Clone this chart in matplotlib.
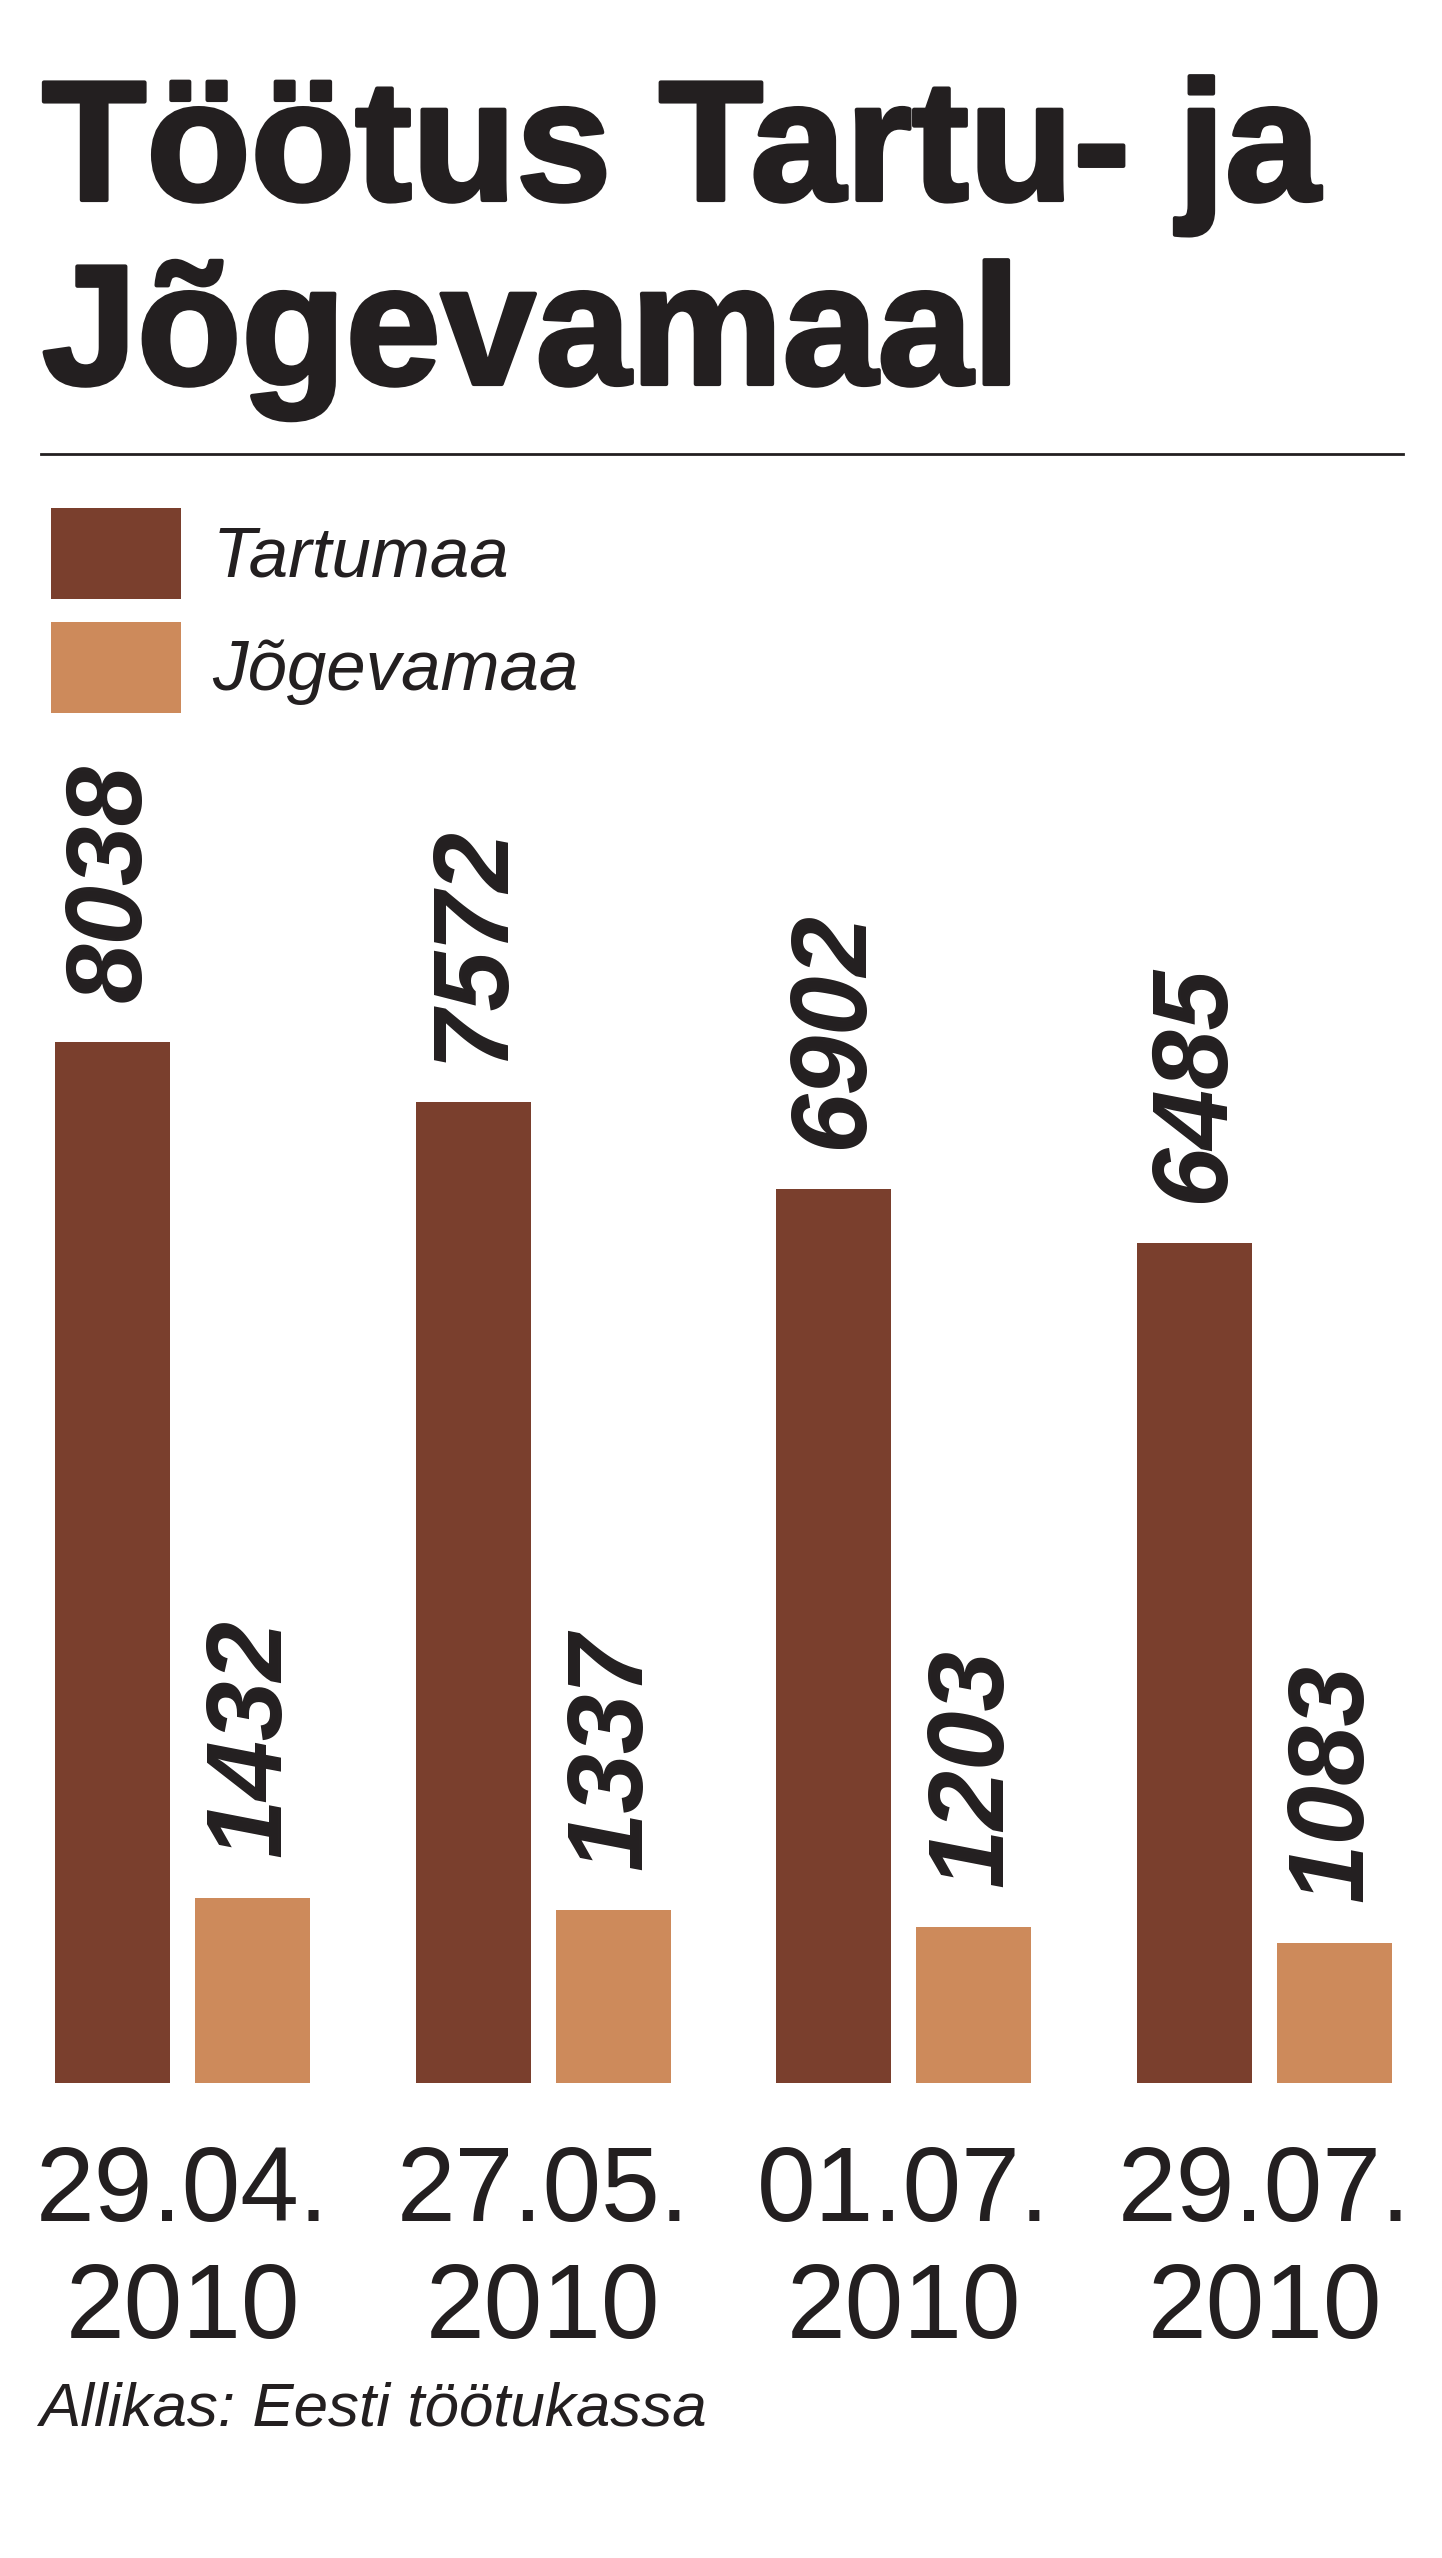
import matplotlib
matplotlib.use('Agg')
import matplotlib.pyplot as plt
import matplotlib.patheffects as pe
from matplotlib.lines import Line2D
import numpy as np

# ---- data ----
dates = ["29.04.\n2010", "27.05.\n2010", "01.07.\n2010", "29.07.\n2010"]
tartumaa = [8038, 7572, 6902, 6485]
jogevamaa = [1432, 1337, 1203, 1083]
series_names = ["Tartumaa", "Jõgevamaa"]
title_lines = ["Töötus Tartu- ja", "Jõgevamaal"]
source = "Allikas: Eesti töötukassa"

# ---- layout ----
W, H = 1442, 2558
DPI = 100
fig = plt.figure(figsize=(W / DPI, H / DPI), dpi=DPI)
fig.patch.set_facecolor('white')

dark = '#7A3F2D'
light = '#CD8A5B'
ink = '#231F20'
sans = ['Liberation Sans', 'DejaVu Sans']


def fx(px):
    return px / W


def fy(py):
    return 1 - py / H


# title
for line, base in zip(title_lines, [200, 384]):
    fig.text(fx(42), fy(base), line, fontsize=123, fontweight='bold',
             family=sans, color=ink, va='baseline', ha='left',
             path_effects=[pe.withStroke(linewidth=3, foreground=ink)])

# rule under title
fig.add_artist(Line2D([fx(41), fx(1403)], [fy(454), fy(454)],
                      lw=2.0, color=ink, transform=fig.transFigure))

# axes
base_px, top_px = 2083, 788
ax = fig.add_axes([0, fy(base_px), 1, (base_px - top_px) / H])
ax.set_ylim(0, 10000)
ax.set_xlim(-0.506, 3.492)
for s in ax.spines.values():
    s.set_visible(False)
ax.set_yticks([])

x = np.arange(len(dates))
off, w = 0.194, 0.319
b1 = ax.bar(x - off, tartumaa, w, color=dark)
b2 = ax.bar(x + off, jogevamaa, w, color=light)

for xs, vals in [(x - off, tartumaa), (x + off, jogevamaa)]:
    for xi, v in zip(xs, vals):
        ax.annotate(str(v), (xi, v), xytext=(0, 29), textcoords='offset points',
                    rotation=90, ha='center', va='bottom', fontsize=77,
                    fontweight='bold', fontstyle='italic', family=sans,
                    color=ink, annotation_clip=False)

ax.set_xticks(x)
ax.set_xticklabels(dates, fontsize=76, family=sans, color=ink, linespacing=1.23)
ax.tick_params(axis='x', length=0, pad=44)

ax.legend([b1, b2], series_names, loc='upper left',
          bbox_to_anchor=(fx(51), fy(508)), bbox_transform=fig.transFigure,
          frameon=False, prop=dict(family=sans, style='italic', size=51),
          labelcolor=ink, handlelength=1.83, handleheight=1.6,
          handletextpad=0.45, labelspacing=0.32, borderpad=0, borderaxespad=0)

fig.text(fx(39), fy(2425), source, fontsize=44.6, style='italic',
         family=sans, color=ink, va='baseline', ha='left')

fig.savefig('out.png', dpi=DPI, facecolor='white')
